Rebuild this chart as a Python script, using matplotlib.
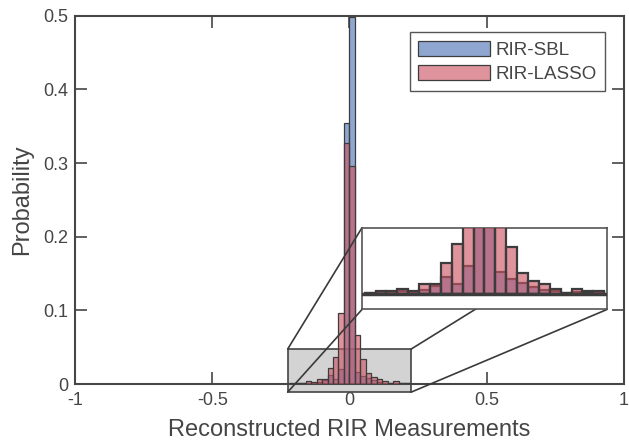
import numpy as np
import matplotlib
matplotlib.use("Agg")
import matplotlib.pyplot as plt
from matplotlib.patches import Rectangle, ConnectionPatch

plt.rcParams['font.family'] = ['Liberation Sans', 'DejaVu Sans']
plt.rcParams['axes.unicode_minus'] = False

# histogram bins (left edges), width 0.02
bin_left = np.round(np.arange(-0.22, 0.2001, 0.02), 2)
bin_width = 0.02

p_sbl = [0.0005, 0.0015, 0.0015, 0.0020, 0.0015, 0.0027, 0.0060, 0.0120,
         0.0073, 0.0200, 0.3550, 0.4980, 0.0160, 0.0107, 0.0078, 0.0050,
         0.0033, 0.0020, 0.0008, 0.0018, 0.0020, 0.0015]
p_lasso = [0.0008, 0.0020, 0.0020, 0.0040, 0.0022, 0.0070, 0.0070, 0.0220,
           0.0360, 0.0970, 0.3270, 0.2960, 0.0665, 0.0340, 0.0150, 0.0096,
           0.0071, 0.0038, 0.0010, 0.0040, 0.0015, 0.0020]

labels = ['RIR-SBL', 'RIR-LASSO']
xticks = [-1, -0.5, 0, 0.5, 1]
xticklabels = ['-1', '-0.5', '0', '0.5', '1']
yticks = [0, 0.1, 0.2, 0.3, 0.4, 0.5]
yticklabels = ['0', '0.1', '0.2', '0.3', '0.4', '0.5']

# zoom window
zx = (-0.225, 0.225)
zy = (-0.011, 0.0475)

blue = (83/255, 121/255, 183/255, 0.65)
red = (205/255, 85/255, 100/255, 0.63)
edge = '#3c3c3c'
txt = '#454545'


def draw_hist(ax, lw=1.0):
    ax.bar(bin_left, p_sbl, width=bin_width, align='edge', facecolor=blue,
           edgecolor=edge, linewidth=lw, label=labels[0], zorder=2)
    ax.bar(bin_left, p_lasso, width=bin_width, align='edge', facecolor=red,
           edgecolor=edge, linewidth=lw, label=labels[1], zorder=3)


fig = plt.figure(figsize=(6.29, 4.42), dpi=100)
ax = fig.add_axes([0.1192, 0.1312, 0.8728, 0.8333])
draw_hist(ax, lw=0.9)

ax.set_xlim(-1, 1)
ax.set_ylim(0, 0.5)
ax.set_xticks(xticks)
ax.set_xticklabels(xticklabels)
ax.set_yticks(yticks)
ax.set_yticklabels(yticklabels)
ax.tick_params(direction='in', length=8.5, width=1.2, colors=txt,
               labelsize=13, top=True, right=True, pad=5)
ax.tick_params(axis='x', pad=6)
for s in ax.spines.values():
    s.set_color('#464646')
    s.set_linewidth(1.5)
ax.set_xlabel('Reconstructed RIR Measurements', fontsize=17, color=txt, labelpad=7)
ax.set_ylabel('Probability', fontsize=17, color=txt, labelpad=7)

ax.add_patch(Rectangle((zx[0], zy[0]), zx[1] - zx[0], zy[1] - zy[0],
                       facecolor='#d3d3d3', edgecolor='#444444', linewidth=1.2,
                       clip_on=False, zorder=1))

leg = ax.legend(loc='upper right', bbox_to_anchor=(0.9654, 0.955),
                borderaxespad=0, fontsize=13.5, fancybox=False,
                edgecolor='#555555', framealpha=1, handlelength=3.8,
                handleheight=0.9, handletextpad=0.3, labelspacing=0.3,
                borderpad=0.45)
leg.get_frame().set_linewidth(1.0)
for t in leg.get_texts():
    t.set_color(txt)

# inset
axins = fig.add_axes([0.5755, 0.2998, 0.3895, 0.185], zorder=5)
draw_hist(axins, lw=1.6)
axins.axhline(0, color=edge, linewidth=2.5, zorder=4)
axins.set_xlim(*zx)
axins.set_ylim(*zy)
axins.set_xticks([])
axins.set_yticks([])
for s in axins.spines.values():
    s.set_color('#555555')
    s.set_linewidth(1.2)

# connector lines between zoom box and inset corners
corners = [((zx[0], zy[1]), (0, 1)), ((zx[0], zy[0]), (0, 0)),
           ((zx[1], zy[1]), (1, 1)), ((zx[1], zy[0]), (1, 0))]
for a, b in corners:
    cp = ConnectionPatch(xyA=a, coordsA=ax.transData, xyB=b,
                         coordsB=axins.transAxes, color='#3a3a3a',
                         linewidth=1.2, zorder=3)
    fig.add_artist(cp)

fig.savefig('out.png', dpi=100)
